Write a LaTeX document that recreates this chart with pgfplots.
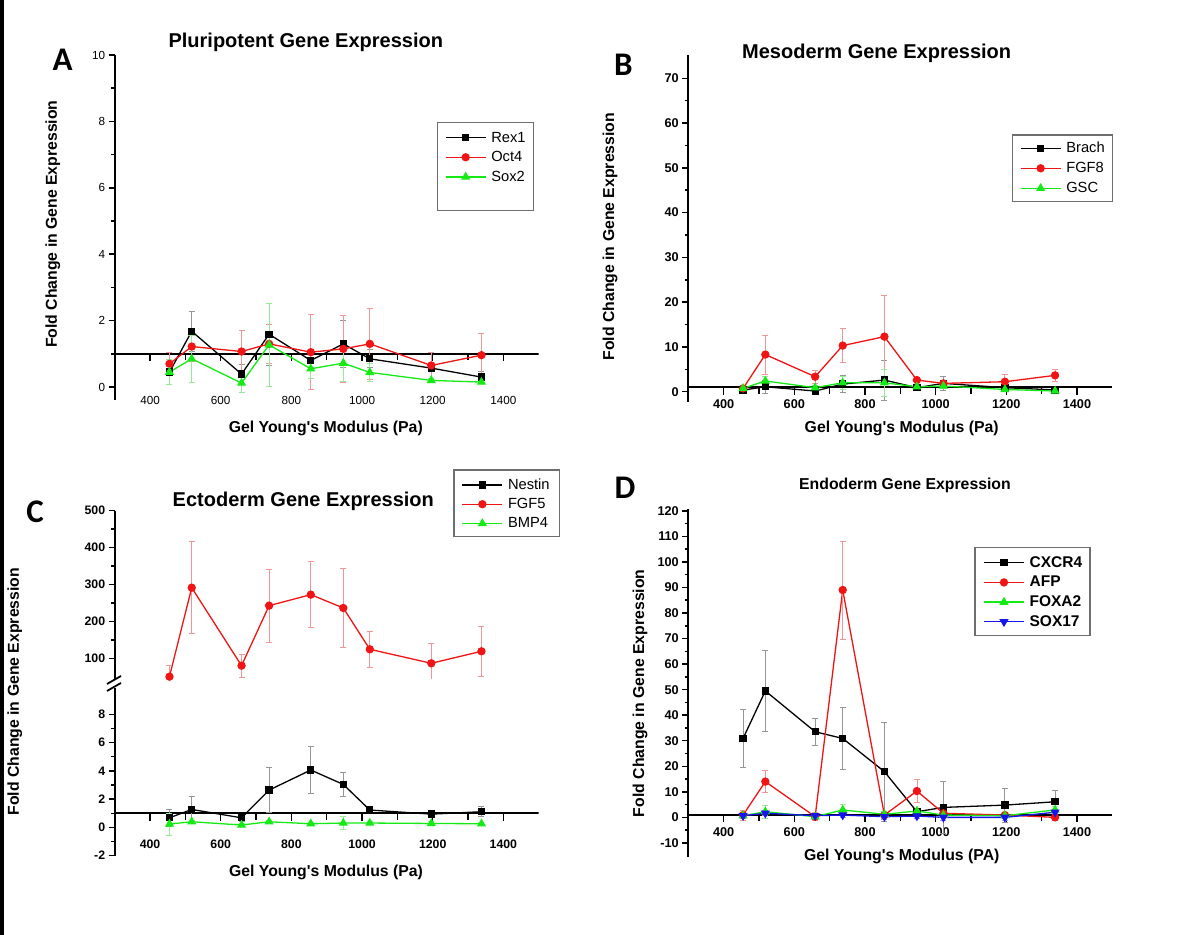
\documentclass[border=0pt]{standalone}
\usepackage{pgfplots}
\pgfplotsset{compat=1.18}
\usepackage{fontspec}
\setmainfont{Liberation Sans}[Ligatures=TeXOff]
\newfontfamily\calib{Carlito}
\definecolor{cred}{RGB}{240,20,20}
\definecolor{cgrn}{RGB}{20,235,20}
\definecolor{cblu}{RGB}{20,20,235}
\definecolor{ebk}{RGB}{150,150,150}
\definecolor{ered}{RGB}{240,150,150}
\definecolor{egrn}{RGB}{150,235,150}
\definecolor{eblu}{RGB}{150,150,235}
\definecolor{lgd}{RGB}{110,110,110}
\pgfplotsset{
  panel/.style={
    scale only axis, width=424bp,
    xmin=300, xmax=1500,
    axis x line=bottom, axis y line=left,
    axis line style={-, line width=2bp, black},
    x axis line style={draw=none},
    xtick={400,600,...,1400},
    xtick style={draw=none},
    tick align=outside,
    ytick style={line width=1.5bp, black},
    major tick length=6bp, minor tick length=3.5bp,
    minor y tick num=1,
    scaled ticks=false,
    /pgf/number format/1000 sep={},
    /pgf/number format/assume math mode=true,
    legend image code/.code={\draw[mark repeat=2,mark phase=2,##1,line width=1.3bp] plot coordinates {(0bp,0bp) (20bp,0bp) (40bp,0bp)};},
    legend style={draw=none, fill=none, anchor=north west, inner sep=0pt, outer sep=0pt, row sep=0pt, column sep=5bp, nodes={inner sep=0pt, minimum height=19.6bp}},
    legend cell align=left,
  },
  ser/.style n args={3}{color=#1, line width=1.3bp, mark=#2, mark size=#3, mark options={solid, fill=#1, draw=#1}},
  errb/.style={/pgfplots/error bars/y dir=both, /pgfplots/error bars/y explicit,
    /pgfplots/error bars/error bar style={line width=0.8bp, draw=#1},
    /pgfplots/error bars/error mark options={rotate=90, mark size=3bp, line width=0.8bp, draw=#1}},
}
\newcommand{\oneline}{%
  \draw[line width=2bp] (axis cs:300,1) -- (axis cs:1500,1);
  \draw[line width=1.5bp] (axis cs:400,1) -- ++(0pt,-7.5bp) (axis cs:500,1) -- ++(0pt,-6.5bp)
    (axis cs:600,1) -- ++(0pt,-7.5bp) (axis cs:700,1) -- ++(0pt,-6.5bp)
    (axis cs:800,1) -- ++(0pt,-7.5bp) (axis cs:900,1) -- ++(0pt,-6.5bp)
    (axis cs:1000,1) -- ++(0pt,-7.5bp) (axis cs:1100,1) -- ++(0pt,-6.5bp)
    (axis cs:1200,1) -- ++(0pt,-7.5bp) (axis cs:1300,1) -- ++(0pt,-6.5bp)
    (axis cs:1400,1) -- ++(0pt,-7.5bp);}
\begin{document}
\begin{tikzpicture}
\fill[white] (0,0) rectangle (1199bp,935bp);
\path[use as bounding box] (0,0) rectangle (1199bp,935bp);
\fill[black] (0,0) rectangle (3.5bp,935bp);

% ---------------- Panel A ----------------
\begin{axis}[panel, at={(114.7bp,535bp)}, anchor=south west, height=345bp,
  ymin=-0.39, ymax=10, ytick={0,2,...,10},
  ticklabel style={font=\fontsize{11.7bp}{13bp}\selectfont},
  xticklabel style={anchor=center, yshift=5.3bp},
  legend style={at={(axis description cs:0.779,0.7887)}, font=\fontsize{14.7bp}{16bp}\selectfont}]
\oneline
\addplot[ser={black}{square*}{3bp}, errb=ebk] table[x=x,y=y,y error=e] {
x y e
455 0.45 0.38
518 1.68 0.60
659 0.39 0.28
737 1.59 0.94
855 0.80 0.20
947 1.30 0.70
1022 0.85 0.27
1196 0.57 0.10
1338 0.30 0.17
};
\addlegendentry{Rex1}
\addplot[ser={cred}{*}{3.5bp}, errb=ered] table[x=x,y=y,y error=e] {
x y e
455 0.70 0.35
518 1.22 0.45
659 1.07 0.64
737 1.30 0.60
855 1.05 1.13
947 1.15 1.00
1022 1.30 1.06
1196 0.65 0.40
1338 0.96 0.66
};
\addlegendentry{Oct4}
\addplot[ser={cgrn}{triangle*}{4bp}, errb=egrn] table[x=x,y=y,y error=e] {
x y e
455 0.45 0.37
518 0.85 0.70
659 0.12 0.27
737 1.27 1.25
855 0.55 0.30
947 0.72 0.55
1022 0.44 0.27
1196 0.20 0.05
1338 0.15 0.05
};
\addlegendentry{Sox2}
\end{axis}

% ---------------- Panel B ----------------
\begin{axis}[panel, at={(688.3bp,533.3bp)}, anchor=south west, height=346.7bp,
  ymin=-2.23, ymax=75.2, ytick={0,10,...,70},
  ticklabel style={font=\fontsize{12.7bp}{14bp}\selectfont\bfseries},
  xticklabel style={anchor=center, yshift=3.4bp},
  legend style={at={(axis description cs:0.7823,0.7597)}, font=\fontsize{14.7bp}{16bp}\selectfont, nodes={minimum height=20bp}}]
\oneline
\addplot[ser={black}{square*}{3bp}, errb=ebk] table[x=x,y=y,y error=e] {
x y e
455 0.37 0.3
518 1.10 1.5
659 0.15 0.3
737 1.70 1.9
855 2.60 4.5
947 0.90 0.4
1022 1.86 1.5
1196 0.90 0.3
1338 0.40 0.2
};
\addlegendentry{Brach}
\addplot[ser={cred}{*}{3.5bp}, errb=ered] table[x=x,y=y,y error=e] {
x y e
455 0.74 0.3
518 8.30 4.35
659 3.35 1.5
737 10.3 3.8
855 12.3 9.1
947 2.60 0.5
1022 1.86 0.5
1196 2.23 1.6
1338 3.65 1.35
};
\addlegendentry{FGF8}
\addplot[ser={cgrn}{triangle*}{4bp}, errb=egrn] table[x=x,y=y,y error=e] {
x y e
455 0.74 0.3
518 2.40 1.0
659 0.90 0.5
737 2.00 1.5
855 2.00 3.0
947 1.10 0.4
1022 1.27 0.6
1196 0.50 0.3
1338 0.15 0.2
};
\addlegendentry{GSC}
\end{axis}

% ---------------- Panel C upper ----------------
\begin{axis}[panel, at={(114.7bp,256.4bp)}, anchor=south west, height=167.9bp,
  ymin=45, ymax=500, ytick={100,200,...,500}, xtick=\empty,
  ticklabel style={font=\fontsize{12.3bp}{14bp}\selectfont\bfseries},
  legend style={at={(axis description cs:0.8184,1.2102)}, font=\fontsize{14.7bp}{16bp}\selectfont, nodes={minimum height=19.2bp}}]
\addlegendimage{ser={black}{square*}{3bp}}
\addlegendentry{Nestin}
\addplot[ser={cred}{*}{3.5bp}, errb=ered] table[x=x,y=y,y error=e] {
x y e
455 50.3 29.8
518 291.4 124.6
659 80.1 31.6
737 242.7 98.3
855 272.5 89.3
947 236.4 107.4
1022 124.4 49.6
1196 86.5 55.0
1338 119.0 68.6
};
\addlegendentry{FGF5}
\addlegendimage{ser={cgrn}{triangle*}{4bp}}
\addlegendentry{BMP4}
\end{axis}

% ---------------- Panel C lower ----------------
\begin{axis}[panel, at={(114.7bp,79.3bp)}, anchor=south west, height=167.4bp,
  ymin=-2, ymax=9.84, ytick={-2,0,...,8},
  ticklabel style={font=\fontsize{12.3bp}{14bp}\selectfont\bfseries},
  xticklabel style={anchor=center, yshift=17.7bp}]
\oneline
\addplot[ser={black}{square*}{3bp}, errb=ebk] table[x=x,y=y,y error=e] {
x y e
455 0.68 0.60
518 1.27 0.90
659 0.68 0.25
737 2.64 1.60
855 4.06 1.65
947 3.04 0.85
1022 1.23 0.20
1196 0.94 0.10
1338 1.11 0.35
};
\addplot[ser={cgrn}{triangle*}{4bp}, errb=egrn] table[x=x,y=y,y error=e] {
x y e
455 0.24 0.78
518 0.40 0.12
659 0.17 0.12
737 0.40 0.12
855 0.26 0.12
947 0.31 0.45
1022 0.31 0.12
1196 0.28 0.12
1338 0.26 0.12
};
\end{axis}

% ---------------- Panel D ----------------
\begin{axis}[panel, at={(688.3bp,78.3bp)}, anchor=south west, height=347.4bp,
  ymin=-15.4, ymax=120.6, ytick={-10,0,...,120},
  ticklabel style={font=\fontsize{12.7bp}{14bp}\selectfont\bfseries},
  xticklabel style={anchor=center, yshift=31bp},
  legend style={at={(axis description cs:0.6958,0.8746)}, font=\fontsize{15.5bp}{17bp}\selectfont\bfseries, nodes={minimum height=19.7bp}}]
\oneline
\addplot[ser={black}{square*}{3bp}, errb=ebk] table[x=x,y=y,y error=e] {
x y e
455 30.9 11.5
518 49.5 16.0
659 33.5 5.3
737 30.9 12.0
855 17.9 19.3
947 2.2 1.0
1022 3.9 10.0
1196 4.8 6.6
1338 6.1 4.3
};
\addlegendentry{CXCR4}
\addplot[ser={cred}{*}{3.5bp}, errb=ered] table[x=x,y=y,y error=e] {
x y e
455 0.9 2.0
518 14.0 4.3
659 0.26 1.5
737 89.0 19.2
855 0.9 1.5
947 10.3 4.6
1022 1.6 1.0
1196 0.9 1.0
1338 0.0 1.0
};
\addlegendentry{AFP}
\addplot[ser={cgrn}{triangle*}{4bp}, errb=egrn] table[x=x,y=y,y error=e] {
x y e
455 0.65 1.0
518 2.2 2.6
659 0.26 1.0
737 2.9 2.0
855 1.2 1.0
947 2.5 1.0
1022 0.9 0.5
1196 0.65 0.5
1338 2.9 1.5
};
\addlegendentry{FOXA2}
\addplot[ser={cblu}{triangle*}{4bp}, mark options={rotate=180}, errb=eblu] table[x=x,y=y,y error=e] {
x y e
455 0.65 1.0
518 1.6 1.0
659 0.65 1.0
737 0.9 1.0
855 0.26 1.0
947 0.5 1.0
1022 0.0 1.0
1196 0.0 1.0
1338 2.0 1.0
};
\addlegendentry{SOX17}
\end{axis}

% legend boxes
\draw[lgd, line width=1.2bp] (437.7bp,724.3bp) rectangle (533.3bp,812.7bp);
\draw[lgd, line width=1.2bp] (1012.3bp,733.3bp) rectangle (1112.7bp,800bp);
\draw[lgd, line width=1.2bp] (454bp,398.3bp) rectangle (559.3bp,465bp);
\draw[lgd, line width=1.2bp] (975bp,299.3bp) rectangle (1090bp,387.7bp);

% axis break in C
\draw[line width=1.8bp] (107bp,251bp) -- (121bp,259bp) (107bp,244bp) -- (121bp,252bp);

% titles
\node[font=\fontsize{20bp}{24bp}\selectfont\bfseries] at (305.8bp,892.3bp) {Pluripotent Gene Expression};
\node[font=\fontsize{20bp}{24bp}\selectfont\bfseries] at (876.7bp,881.7bp) {Mesoderm Gene Expression};
\node[font=\fontsize{20bp}{24bp}\selectfont\bfseries] at (303.3bp,433.3bp) {Ectoderm Gene Expression};
\node[font=\fontsize{15.8bp}{18bp}\selectfont\bfseries] at (905bp,450bp) {Endoderm Gene Expression};

% panel letters
\node[font=\calib\fontsize{33bp}{36bp}\selectfont\bfseries] at (62.5bp,875bp) {A};
\node[font=\calib\fontsize{33bp}{36bp}\selectfont\bfseries] at (623.3bp,870bp) {B};
\node[font=\calib\fontsize{33bp}{36bp}\selectfont\bfseries] at (35.1bp,423.3bp) {C};
\node[font=\calib\fontsize{33bp}{36bp}\selectfont\bfseries] at (625bp,446.7bp) {D};

% y labels
\node[rotate=90, font=\fontsize{15.8bp}{18bp}\selectfont\bfseries] at (52.9bp,710.8bp) {Fold Change in Gene Expression};
\node[rotate=90, font=\fontsize{15.8bp}{18bp}\selectfont\bfseries] at (610bp,698.3bp) {Fold Change in Gene Expression};
\node[rotate=90, font=\fontsize{15.8bp}{18bp}\selectfont\bfseries] at (14.8bp,243.3bp) {Fold Change in Gene Expression};
\node[rotate=90, font=\fontsize{15.8bp}{18bp}\selectfont\bfseries] at (640bp,241.7bp) {Fold Change in Gene Expression};

% x labels
\node[font=\fontsize{15.8bp}{18bp}\selectfont\bfseries] at (325.8bp,506.7bp) {Gel Young's Modulus (Pa)};
\node[font=\fontsize{15.8bp}{18bp}\selectfont\bfseries] at (901.7bp,506.7bp) {Gel Young's Modulus (Pa)};
\node[font=\fontsize{15.8bp}{18bp}\selectfont\bfseries] at (326bp,62.7bp) {Gel Young's Modulus (Pa)};
\node[font=\fontsize{15.8bp}{18bp}\selectfont\bfseries] at (901.7bp,78.3bp) {Gel Young's Modulus (PA)};
\end{tikzpicture}
\end{document}
